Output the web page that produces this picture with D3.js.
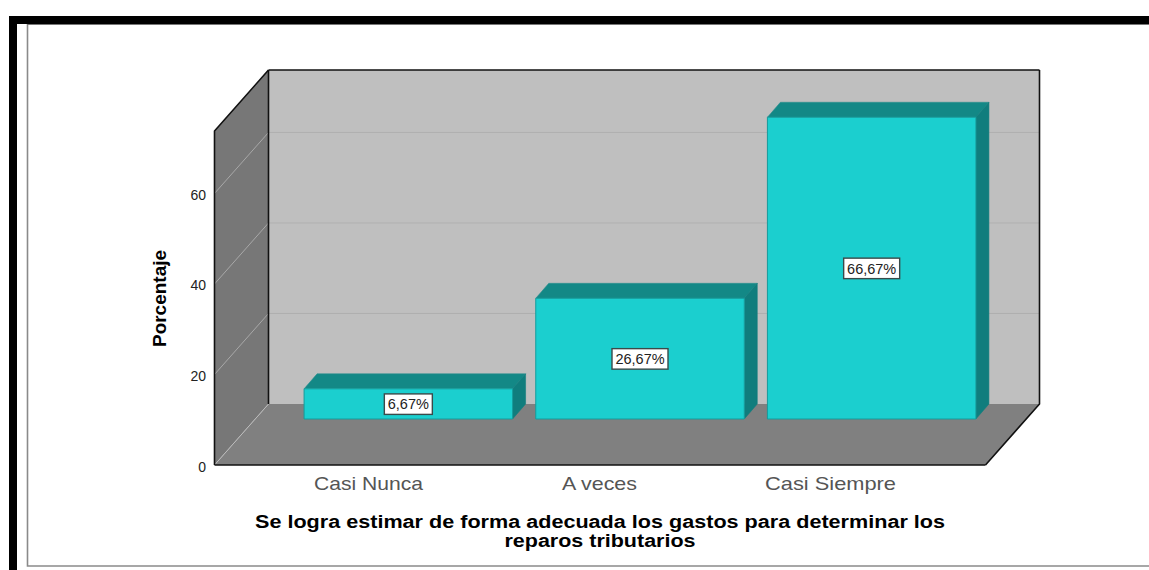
<!DOCTYPE html>
<html><head><meta charset="utf-8">
<script src="https://cdn.jsdelivr.net/npm/d3@7/dist/d3.min.js"></script>
<style>html,body{margin:0;padding:0;background:#fff;overflow:hidden}svg{display:block}text{font-family:"Liberation Sans",Arial,sans-serif}</style>
</head><body><svg id="c" width="1149" height="570"></svg>
<script>
const categories = ["Casi Nunca", "A veces", "Casi Siempre"];
const values = [6.67, 26.67, 66.67];
const valueLabels = ["6,67%", "26,67%", "66,67%"];
const yTicks = [0, 20, 40, 60];
const titleLines = ["Se logra estimar de forma adecuada los gastos para determinar los", "reparos tributarios"];
const yLabel = "Porcentaje";

const svg = d3.select("#c");
const W = 1149, H = 570;

// page frame
svg.append("path").attr("d","M27.5,24V566H"+W).attr("fill","none").attr("stroke","#8a8a8a").attr("stroke-width",1.6);
svg.append("line").attr("x1",27).attr("x2",W).attr("y1",24.5).attr("y2",24.5).attr("stroke","#777").attr("stroke-width",1);
svg.append("rect").attr("x",9).attr("y",16).attr("width",W-9).attr("height",8).attr("fill","#000");
svg.append("rect").attr("x",9).attr("y",16).attr("width",8).attr("height",H-16).attr("fill","#000");

// geometry
const x0 = 214.5, y0 = 465, depthX = 54, depthY = 61;
const yMax = 73.8;
const y = d3.scaleLinear().domain([0, yMax]).range([y0, y0 - 334]);
const floorW = 771;
const yTop = y(yMax);

const g = svg.append("g");
const line = d3.line();
const poly = (pts, fill, stroke, sw) => g.append("path").attr("d", line(pts)+"Z").attr("fill",fill).attr("stroke",stroke||"none").attr("stroke-width",sw||0).attr("stroke-linejoin","round");

// back wall
poly([[x0+depthX,yTop-depthY],[x0+depthX+floorW,yTop-depthY],[x0+depthX+floorW,y0-depthY],[x0+depthX,y0-depthY]],"#bfbfbf");
// left wall
poly([[x0,yTop],[x0+depthX,yTop-depthY],[x0+depthX,y0-depthY],[x0,y0]],"#777777");
// floor
poly([[x0,y0],[x0+depthX,y0-depthY],[x0+depthX+floorW,y0-depthY],[x0+floorW,y0]],"#808080");

// gridlines
yTicks.forEach(t => {
  const yy = y(t);
  g.append("line").attr("x1",x0).attr("y1",yy).attr("x2",x0+depthX).attr("y2",yy-depthY).attr("stroke",t===0?"#bcbcbc":"#a8a8a8").attr("stroke-width",1);
  if (t>0) g.append("line").attr("x1",x0+depthX).attr("y1",yy-depthY).attr("x2",x0+depthX+floorW).attr("y2",yy-depthY).attr("stroke","#b0b0b0").attr("stroke-width",1);
});

// frame edges
const edge = (...pts) => g.append("path").attr("d",line(pts)).attr("fill","none").attr("stroke","#111").attr("stroke-width",1.6);
edge([x0,y0],[x0,yTop],[x0+depthX,yTop-depthY]);
edge([x0+depthX,yTop-depthY],[x0+depthX+floorW,yTop-depthY]);
edge([x0+depthX,yTop-depthY],[x0+depthX,y0-depthY]);
edge([x0+depthX+floorW,yTop-depthY],[x0+depthX+floorW,y0-depthY],[x0+floorW,y0]);
edge([x0,y0],[x0+floorW,y0]);

// bars
const barBase = 419, yb = d3.scaleLinear().domain([0,yMax]).range([barBase, barBase-334]);
const xb = d3.scaleBand().domain(categories).range([292.5,987.5]).paddingInner(0.1).paddingOuter(0.05);
const bd = {x:13, y:15};
categories.forEach((c,i) => {
  const l = xb(c), r = l + xb.bandwidth(), t = yb(values[i]);
  poly([[l,t],[l+bd.x,t-bd.y],[r+bd.x,t-bd.y],[r,t]],"#138886","#2b8f8f",0.6);
  poly([[r,t],[r+bd.x,t-bd.y],[r+bd.x,barBase-bd.y],[r,barBase]],"#107d7d","#107d7d",0.6);
  poly([[l,t],[r,t],[r,barBase],[l,barBase]],"#1bcfcf","#159c9c",1);
});

// data labels
categories.forEach((c,i) => {
  const cx = xb(c)+xb.bandwidth()/2, cy = (yb(values[i])+barBase)/2;
  const w = valueLabels[i].length===5 ? 48 : 56;
  g.append("rect").attr("x",cx-w/2).attr("y",cy-10).attr("width",w).attr("height",20.5).attr("fill","#fff").attr("stroke","#3a4a4a").attr("stroke-width",1.4);
  g.append("text").attr("x",cx).attr("y",cy+5.5).attr("text-anchor","middle").attr("font-size",14.5).attr("fill","#222").text(valueLabels[i]);
});

// y tick labels
yTicks.forEach(t => {
  g.append("text").attr("x",206).attr("y",y(t)+6.5).attr("text-anchor","end").attr("font-size",14).attr("fill","#222").text(t);
});

// category labels
const catX = [368.5, 599.5, 830.5], catW = [109, 75, 131];
categories.forEach((c,i) => {
  g.append("text").attr("x",catX[i]).attr("y",490).attr("text-anchor","middle").attr("font-size",18.5).attr("fill","#555")
   .attr("textLength",catW[i]).attr("lengthAdjust","spacingAndGlyphs").text(c);
});

// titles
const titleW = [690, 191];
titleLines.forEach((s,i) => {
  g.append("text").attr("x",600).attr("y",528+i*18.5).attr("text-anchor","middle").attr("font-size",17.5).attr("font-weight","bold").attr("fill","#000")
   .attr("textLength",titleW[i]).attr("lengthAdjust","spacingAndGlyphs").text(s);
});

g.append("text").attr("transform","translate(166,298.5) rotate(-90)").attr("text-anchor","middle").attr("font-size",19).attr("font-weight","bold").attr("fill","#000")
 .attr("textLength",97).attr("lengthAdjust","spacingAndGlyphs").text(yLabel);
</script></body></html>
